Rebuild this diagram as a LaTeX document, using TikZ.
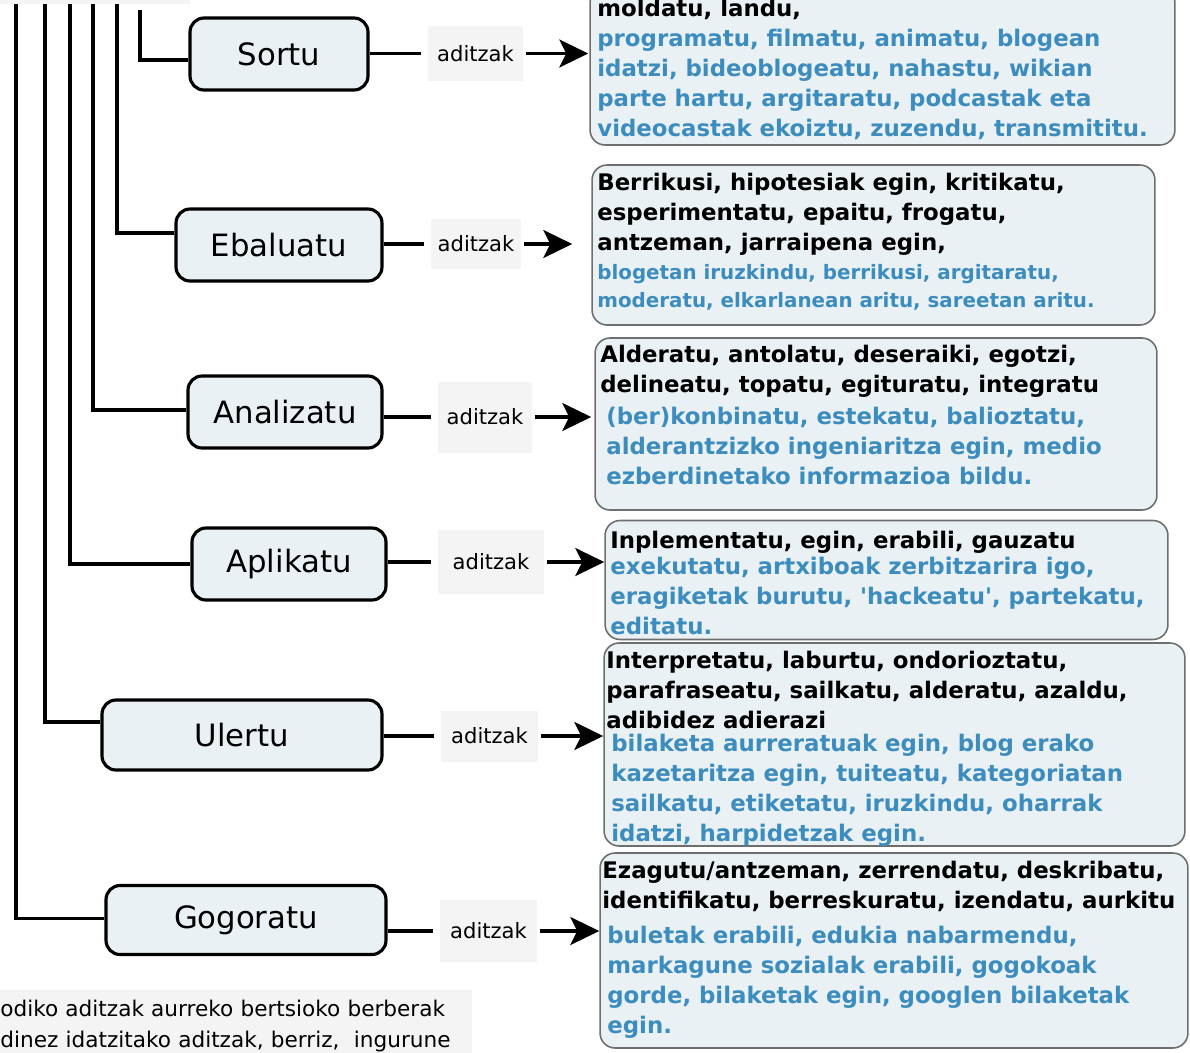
\documentclass[tikz,border=0pt]{standalone}
\usepackage{fontspec}
\setmainfont{DejaVu Sans}
\usepackage{tikz}
\usetikzlibrary{positioning}
\usetikzlibrary{arrows.meta}
\usetikzlibrary{calc}
\definecolor{boxfill}{RGB}{233,241,244}
\definecolor{verbblue}{RGB}{60,140,190}
\definecolor{labelbg}{RGB}{244,244,244}
\definecolor{framegray}{RGB}{110,110,110}

\begin{document}
\begin{tikzpicture}[x=0.02cm,y=-0.02cm]
\useasboundingbox (0,0) rectangle (1190,1052);
\clip (0,0) rectangle (1190,1052);
\tikzstyle{levelbox}=[draw=black,line width=1.8pt,rounded corners=0.28cm,fill=boxfill,minimum height=1.44cm,font=\fontsize{17.5pt}{21pt}\selectfont]
\tikzstyle{aditz}=[fill=labelbg,inner sep=0pt,font=\fontsize{12pt}{15pt}\selectfont]
\tikzstyle{verbbox}=[draw=framegray,line width=0.9pt,rounded corners=0.3cm,fill=boxfill]
\tikzstyle{blacktxt}=[anchor=north west,inner sep=0pt,align=left,font=\fontsize{13pt}{17.07pt}\selectfont\bfseries]
\tikzstyle{bluetxt}=[blacktxt,text=verbblue]
\tikzstyle{link}=[line width=1.8pt]
\tikzstyle{arr}=[line width=1.8pt,-{Stealth[length=0.58cm,width=0.56cm,inset=0.14cm]}]
\fill[labelbg] (0,0) rectangle (190,4);
\node[levelbox,minimum width=3.56cm] (sortu) at (279,54) {Sortu};
\node[levelbox,minimum width=4.12cm] (ebaluatu) at (279,245) {Ebaluatu};
\node[levelbox,minimum width=3.88cm] (analizatu) at (285,412) {Analizatu};
\node[levelbox,minimum width=3.88cm] (aplikatu) at (289,564) {Aplikatu};
\node[levelbox,minimum width=5.6cm,minimum height=1.4cm] (ulertu) at (242,735) {Ulertu};
\node[levelbox,minimum width=5.6cm,minimum height=1.38cm] (gogoratu) at (246,920) {Gogoratu};
\foreach \vx/\vy/\lvl/\dy in {140/10/sortu/-3.4, 117/4/ebaluatu/6.8, 93/4/analizatu/1.1, 70/4/aplikatu/0, 45/4/ulertu/7.4, 16/4/gogoratu/1} {
  \coordinate (t\lvl) at (\vx,\vy);
  \draw[link] (t\lvl) |- ([yshift=\dy pt]\lvl.west);
}
\node[verbbox,minimum width=11.7cm,minimum height=3.14cm] (vsortu) at (882.5,66.5) {};
\node[verbbox,minimum width=11.26cm,minimum height=3.2cm] (vebaluatu) at (873.5,245) {};
\node[verbbox,minimum width=11.24cm,minimum height=3.44cm] (vanalizatu) at (876,424) {};
\node[verbbox,minimum width=11.26cm,minimum height=2.38cm] (vaplikatu) at (886.5,580) {};
\node[verbbox,minimum width=11.62cm,minimum height=4.06cm] (vulertu) at (894.5,744.5) {};
\node[verbbox,minimum width=11.76cm,minimum height=3.9cm] (vgogoratu) at (894,950.5) {};
\node[blacktxt] (sortublack) at (597,-1) {moldatu, landu,};
\node[bluetxt] (sortublue) at (597,29) {programatu, filmatu, animatu, blogean\\idatzi, bideoblogeatu, nahastu, wikian\\parte hartu, argitaratu, podcastak eta\\videocastak ekoiztu, zuzendu, transmititu.};
\node[blacktxt] (ebaluatublack) at (597,173) {Berrikusi, hipotesiak egin, kritikatu,\\esperimentatu, epaitu, frogatu,\\antzeman, jarraipena egin,};
\node[bluetxt,font=\fontsize{11.3pt}{15.9pt}\selectfont\bfseries] (ebaluatublue) at (597,264) {blogetan iruzkindu, berrikusi, argitaratu,\\moderatu, elkarlanean aritu, sareetan aritu.};
\node[blacktxt] (analizatublack) at (600,345) {Alderatu, antolatu, deseraiki, egotzi,\\delineatu, topatu, egituratu, integratu};
\node[bluetxt] (analizatublue) at (606,407) {(ber)konbinatu, estekatu, balioztatu,\\alderantzizko ingeniaritza egin, medio\\ezberdinetako informazioa bildu.};
\node[blacktxt] (aplikatublack) at (610,531) {Inplementatu, egin, erabili, gauzatu};
\node[bluetxt] (aplikatublue) at (610,557) {exekutatu, artxiboak zerbitzarira igo,\\eragiketak burutu, \textquotesingle hackeatu\textquotesingle, partekatu,\\editatu.};
\node[blacktxt] (ulertublack) at (606,651) {Interpretatu, laburtu, ondorioztatu,\\parafraseatu, sailkatu, alderatu, azaldu,\\adibidez adierazi};
\node[bluetxt] (ulertublue) at (611,734) {bilaketa aurreratuak egin, blog erako\\kazetaritza egin, tuiteatu, kategoriatan\\sailkatu, etiketatu, iruzkindu, oharrak\\idatzi, harpidetzak egin.};
\node[blacktxt] (gogoratublack) at (602,861) {Ezagutu/antzeman, zerrendatu, deskribatu,\\identifikatu, berreskuratu, izendatu, aurkitu};
\node[bluetxt] (gogoratublue) at (607,926) {buletak erabili, edukia nabarmendu,\\markagune sozialak erabili, gogokoak\\gorde, bilaketak egin, googlen bilaketak\\egin.};
\foreach \lvl/\lx/\ly/\lw/\lh/\gap in {sortu/475.5/53.5/1.9/1.1/0.02, ebaluatu/476/244/1.8/1.0/0.38, analizatu/485/417/1.88/1.42/0.06, aplikatu/491/562/2.12/1.28/0, ulertu/489.5/736/1.94/1.02/0, gogoratu/488.5/931/1.94/1.24/0} {
  \node[aditz,minimum width=\lw cm,minimum height=\lh cm] (a\lvl) at (\lx,\ly) {aditzak};
  \draw[link,shorten >=0.14cm] (\lvl.east |- a\lvl) -- (a\lvl.west);
  \draw[arr,shorten <=0.06cm,shorten >=\gap cm] (a\lvl.east) -- (a\lvl -| v\lvl.west);
}
\node[anchor=north west,fill=labelbg,inner xsep=0pt,inner ysep=5.7pt,text width=9.44cm,align=left,font=\fontsize{12.3pt}{17.6pt}\selectfont] (note) at (0,990) {odiko aditzak aurreko bertsioko berberak\\dinez idatzitako aditzak, berriz,~ ingurune};
\end{tikzpicture}
\end{document}
